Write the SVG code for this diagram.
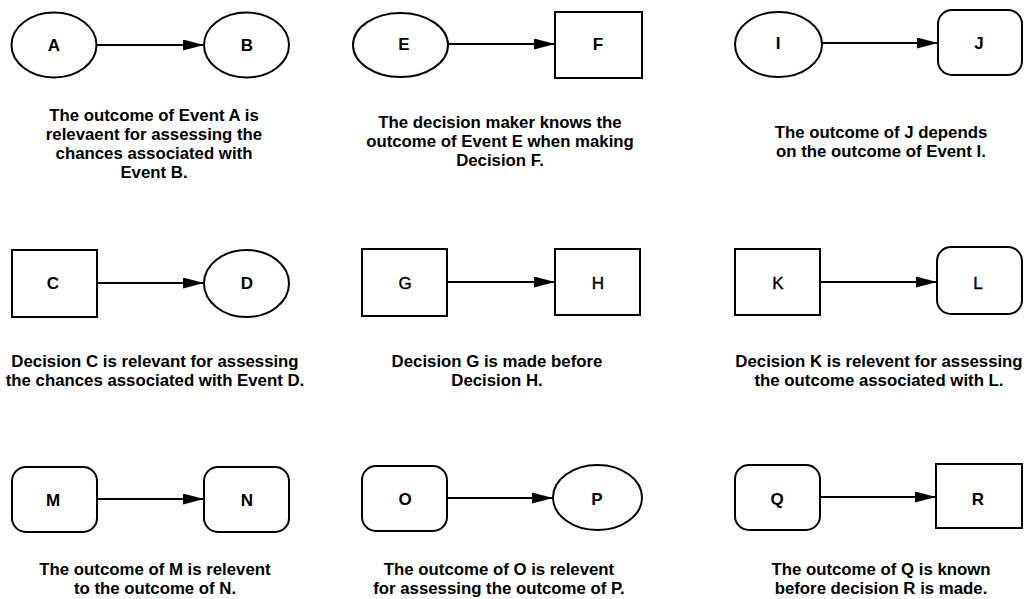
<svg xmlns="http://www.w3.org/2000/svg" width="1027" height="599" viewBox="0 0 1027 599">
<style>
.shape{fill:#fff;stroke:#000;stroke-width:2}
.lbl{font-family:"Liberation Sans",Arial,sans-serif;font-size:17px;font-weight:bold;text-anchor:middle;fill:#000}
.lbl.n{font-weight:normal;stroke:#000;stroke-width:0.4}
.cap{font-family:"Liberation Sans",Arial,sans-serif;font-size:16.8px;font-weight:bold;text-anchor:middle;fill:#000}
.edge{stroke:#000;stroke-width:2;fill:none;marker-end:url(#ah)}
</style>
<defs>
<marker id="ah" markerUnits="userSpaceOnUse" markerWidth="21" markerHeight="11" refX="21" refY="5.5" orient="auto">
<path d="M0,0 L21,5.5 L0,11 z" fill="#000"/>
</marker>
</defs>
<rect width="1027" height="599" fill="#fff"/>

<g id="connectors">
<line class="edge" x1="97" y1="45" x2="204" y2="45"/>
<line class="edge" x1="448" y1="44" x2="555" y2="44"/>
<line class="edge" x1="822" y1="43" x2="938" y2="43"/>
<line class="edge" x1="97" y1="283" x2="204" y2="283"/>
<line class="edge" x1="447" y1="282" x2="555" y2="282"/>
<line class="edge" x1="820" y1="282" x2="937" y2="282"/>
<line class="edge" x1="97" y1="499" x2="204" y2="499"/>
<line class="edge" x1="447" y1="498" x2="553" y2="498"/>
<line class="edge" x1="820" y1="497" x2="936" y2="497"/>
</g>

<g id="node-A"><ellipse class="shape" cx="54" cy="45" rx="42.5" ry="32.5"/><text class="lbl" x="54" y="51">A</text></g>
<g id="node-B"><ellipse class="shape" cx="246.5" cy="45" rx="42.5" ry="32.5"/><text class="lbl" x="247" y="51">B</text></g>
<g id="node-E"><ellipse class="shape" cx="400.5" cy="45" rx="47.5" ry="32"/><text class="lbl" x="404" y="50">E</text></g>
<g id="node-F"><rect class="shape" x="555" y="12" width="87" height="66"/><text class="lbl" x="598" y="50">F</text></g>
<g id="node-I"><ellipse class="shape" cx="778.5" cy="44.5" rx="43.5" ry="32.5"/><text class="lbl" x="778" y="49">I</text></g>
<g id="node-J"><rect class="shape" x="938" y="10" width="84" height="65" rx="14" ry="14"/><text class="lbl" x="979" y="49">J</text></g>

<g id="node-C"><rect class="shape" x="12" y="250" width="85" height="67"/><text class="lbl" x="53" y="289">C</text></g>
<g id="node-D"><ellipse class="shape" cx="246.5" cy="283.5" rx="42.5" ry="33.5"/><text class="lbl" x="247" y="289">D</text></g>
<g id="node-G"><rect class="shape" x="362" y="249" width="85" height="67"/><text class="lbl n" x="405" y="289">G</text></g>
<g id="node-H"><rect class="shape" x="555" y="249" width="85" height="66"/><text class="lbl n" x="598" y="289">H</text></g>
<g id="node-K"><rect class="shape" x="735" y="249" width="85" height="66"/><text class="lbl n" x="778" y="289">K</text></g>
<g id="node-L"><rect class="shape" x="937" y="247" width="85" height="67" rx="14" ry="14"/><text class="lbl n" x="978" y="289">L</text></g>

<g id="node-M"><rect class="shape" x="12" y="467" width="85" height="65" rx="14" ry="14"/><text class="lbl" x="53" y="506">M</text></g>
<g id="node-N"><rect class="shape" x="204" y="467" width="85" height="65" rx="14" ry="14"/><text class="lbl" x="247" y="506">N</text></g>
<g id="node-O"><rect class="shape" x="362" y="466" width="85" height="65" rx="14" ry="14"/><text class="lbl" x="405" y="505">O</text></g>
<g id="node-P"><ellipse class="shape" cx="597.5" cy="497.5" rx="44.5" ry="32.5"/><text class="lbl" x="597" y="505">P</text></g>
<g id="node-Q"><rect class="shape" x="735" y="465" width="85" height="65" rx="14" ry="14"/><text class="lbl" x="777" y="505">Q</text></g>
<g id="node-R"><rect class="shape" x="936" y="464" width="86" height="64"/><text class="lbl" x="978" y="505">R</text></g>

<g id="captions">
<text class="cap"><tspan x="154" y="121">The outcome of Event A is</tspan><tspan x="154" y="140">relevaent for assessing the</tspan><tspan x="154" y="159">chances associated with</tspan><tspan x="154" y="178">Event B.</tspan></text>
<text class="cap"><tspan x="500" y="128">The decision maker knows the</tspan><tspan x="500" y="147">outcome of Event E when making</tspan><tspan x="500" y="166">Decision F.</tspan></text>
<text class="cap"><tspan x="881" y="138">The outcome of J depends</tspan><tspan x="881" y="157">on the outcome of Event I.</tspan></text>
<text class="cap"><tspan x="155" y="367">Decision C is relevant for assessing</tspan><tspan x="155" y="386">the chances associated with Event D.</tspan></text>
<text class="cap"><tspan x="497" y="367">Decision G is made before</tspan><tspan x="497" y="386">Decision H.</tspan></text>
<text class="cap"><tspan x="879" y="367">Decision K is relevent for assessing</tspan><tspan x="879" y="386">the outcome associated with L.</tspan></text>
<text class="cap"><tspan x="155" y="575">The outcome of M is relevent</tspan><tspan x="155" y="594">to the outcome of N.</tspan></text>
<text class="cap"><tspan x="499" y="575">The outcome of O is relevent</tspan><tspan x="499" y="594">for assessing the outcome of P.</tspan></text>
<text class="cap"><tspan x="881" y="575">The outcome of Q is known</tspan><tspan x="881" y="594">before decision R is made.</tspan></text>
</g>
</svg>
